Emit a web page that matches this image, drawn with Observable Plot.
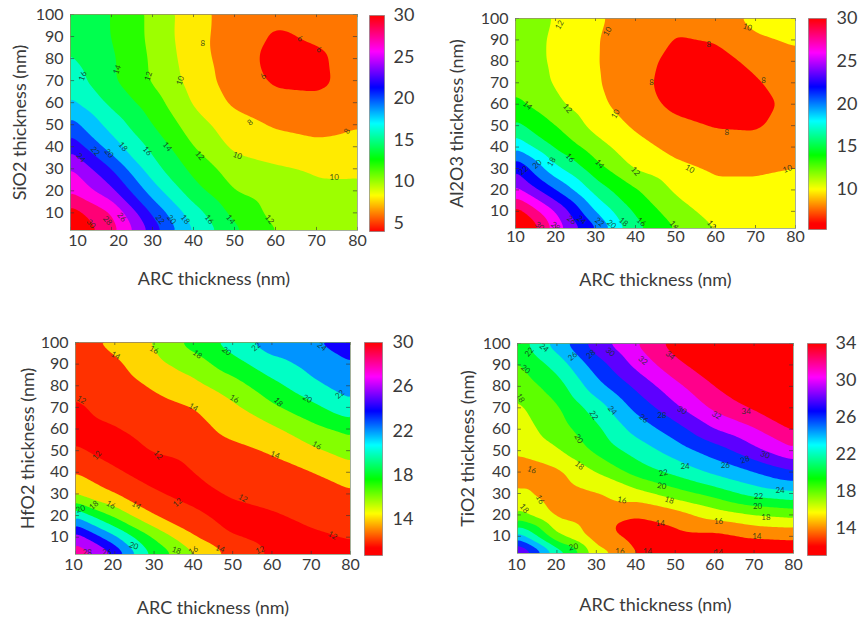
<!DOCTYPE html>
<html>
<head>
<meta charset="utf-8">
<script src="https://cdn.jsdelivr.net/npm/d3@7"></script>
<script src="https://cdn.jsdelivr.net/npm/@observablehq/plot@0.6"></script>
<style>
html,body{margin:0;padding:0;background:#fff}
#page{position:relative;width:858px;height:619px;overflow:hidden}
#page>svg,#page>div{position:absolute}
</style>
</head>
<body>
<div id="page"></div>
<script>
const arcThickness = [10,20,30,40,50,60,70,80];
const layerThickness = [100,90,80,70,60,50,40,30,20,10,0];
const layerTicks = [10,20,30,40,50,60,70,80,90,100];

// Rows run from 100 nm down to 0 nm; columns are ARC 10..80 nm
const sio2 = [
 15.2,14.0,11.5, 8.8,7.0,6.4,6.5,6.9,
 15.6,14.0,11.5, 8.7,7.0,5.8,6.2,6.8,
 16.2,14.3,11.7, 8.9,6.9,5.4,5.7,6.7,
 17.0,14.3,11.8, 9.2,7.0,5.7,5.6,6.7,
 18.4,15.5,12.9, 9.8,7.6,6.6,6.4,7.0,
 20.8,17.2,14.0,10.9,8.9,7.8,7.4,7.9,
 23.5,19.0,15.5,12.0,9.6,8.8,8.4,8.6,
 26.2,22.0,16.8,13.4,11.0,10.3,9.8,9.7,
 27.8,24.5,19.0,14.8,12.0,11.0,10.3,10.4,
 31.0,28.0,21.7,16.9,13.4,11.4,10.7,10.7,
 33.0,29.1,23.7,18.2,14.8,12.2,11.0,10.9];
const al2o3 = [
 13.0,11.9,10.3,9.2,8.4,8.8,10.8,11.4,
 13.0,11.7,10.1,9.1,7.9,8.1,9.6,10.3,
 13.0,11.7,10.1,8.9,7.3,7.4,8.4,9.4,
 13.4,11.8,10.2,8.7,7.1,6.9,7.8,8.9,
 14.5,12.4,10.5,8.9,7.5,6.9,7.4,8.5,
 16.5,14.0,11.3,9.7,8.5,7.9,7.8,8.6,
 19.7,15.7,12.9,10.7,9.4,8.7,8.6,9.1,
 23.8,18.5,14.8,11.8,10.5,9.7,9.7,10.05,
 26.6,22.0,17.2,14.2,11.7,10.5,10.5,10.6,
 31.0,26.0,20.0,15.7,12.9,11.2,10.9,11.0,
 34.0,27.8,23.0,17.0,14.3,12.2,11.0,11.1];
const hfo2 = [
 13.2,14.6,16.2,18.8,21.0,23.3,23.8,25.0,
 12.9,13.6,15.4,16.9,19.2,21.2,22.7,23.9,
 12.4,12.9,14.3,15.4,17.0,19.4,21.5,22.9,
 11.8,12.5,13.2,14.0,15.6,17.6,19.4,21.4,
 11.5,11.9,12.5,13.2,14.7,15.6,17.3,18.6,
 12.2,11.4,12.1,12.4,13.4,14.2,15.6,16.8,
 14.0,12.2,11.3,12.0,12.9,13.3,13.9,15.2,
 15.8,14.0,12.2,11.4,12.2,12.6,13.1,13.7,
 21.7,17.5,14.0,12.4,11.4,11.8,12.4,12.9,
 27.2,22.4,17.8,14.2,12.0,11.3,11.7,12.1,
 30.0,27.0,20.2,16.8,13.8,11.8,11.3,11.4];
const tio2 = [
 21.0,25.0,29.3,32.0,35.0,37.0,40.0,42.0,
 19.7,22.7,27.0,30.5,33.4,35.5,38.0,40.0,
 18.6,21.0,25.2,28.4,31.4,34.0,36.0,38.0,
 17.6,19.7,22.9,26.5,29.6,32.5,34.3,36.0,
 17.0,19.0,21.5,24.7,27.1,30.0,31.8,34.3,
 16.4,17.8,20.5,22.8,24.9,27.0,29.5,31.7,
 14.6,15.5,18.0,20.8,22.6,24.5,26.0,27.8,
 16.4,14.8,15.8,17.2,19.1,20.8,22.8,23.6,
 18.5,15.5,14.6,14.0,15.0,16.8,18.0,18.6,
 25.0,18.3,14.8,13.2,13.3,13.3,14.0,14.2,
 33.0,25.0,17.6,14.2,13.3,13.0,12.8,12.8];

const sio2Levels  = [4,6,8,10,12,14,16,18,20,22,24,26,28,30];
const al2o3Levels = [6,8,10,12,14,16,18,20,22,24,26,28,30];
const hfo2Levels  = [10,12,14,16,18,20,22,24,26,28,30];
const tio2Levels  = [12,14,16,18,20,22,24,26,28,30,32,34];

// contour labels: ARC, layer thickness, text, angle
const sio2Labels = [[13,72,"16",-70],[21.4,75,"14",-70],[29,72,"12",-70],[36.8,70,"10",-70],[42.3,87,"8",0],[53.8,51,"8",-40],[57,72,"6",-50],[66,89,"6",30],[70.6,84,"6",30],[77.5,47,"8",-60],[74.3,26,"10",0],[50.7,36,"10",20],[41.5,36,"12",50],[33.6,40,"14",50],[28.7,38,"16",50],[22.8,40,"18",50],[19.4,37,"20",50],[16,38,"22",50],[12.5,35,"24",50],[31.8,7,"22",50],[34.6,7,"20",50],[38,7,"18",50],[43.8,7,"16",50],[49,7,"14",50],[58.5,7,"12",50],[15,5,"30",50],[19,6.5,"28",50],[22.5,8,"26",50]];
const al2o3Labels = [[21,97,"12",-60],[33,94,"10",-60],[68,96,"10",20],[13,59.4,"14",40],[23,58,"12",50],[35,55.5,"10",-60],[44,70,"8",0],[58.3,88,"8",0],[72,71,"8",0],[62.8,47,"8",0],[53.6,29.8,"10",30],[78,29.8,"10",-20],[40,28.7,"12",50],[31,32,"14",50],[23.6,35,"16",50],[19,33,"18",-60],[15.4,32,"20",-40],[12,29,"22",-40],[31,5,"22",40],[34,4,"20",40],[37,5,"18",40],[41.4,5,"16",40],[49.6,3.5,"14",50],[59,3.7,"12",50],[16,3,"30",40],[20,3,"28",40],[24,6,"26",40],[26.5,6,"24",40]];
const hfo2Labels = [[20.2,94,"14",30],[30,96.6,"16",30],[41,94.5,"18",40],[48.4,96,"20",40],[56,98,"22",-40],[72.7,98,"24",40],[77.3,76,"22",-40],[69,74,"20",30],[61.6,72.4,"18",50],[50.4,74,"16",30],[40,70,"14",30],[11.5,73.5,"12",30],[71.4,52.4,"16",30],[60.8,48,"14",20],[31,48,"12",50],[15.5,47.8,"12",-50],[52.6,28,"12",30],[36,26,"12",-40],[75.4,10.8,"12",30],[57,4,"12",-20],[25.5,24.7,"14",30],[46.8,4.6,"14",20],[19,25,"16",30],[40,3.9,"16",-30],[14.7,24.7,"18",-40],[35.7,3.9,"18",20],[11.3,23,"20",-20],[24.8,6,"20",20],[13,2.8,"28",0],[18,3,"26",0]];
const tio2Labels = [[13,96,"22",-50],[16.7,98,"24",40],[24,94,"26",-40],[28.6,95,"28",-40],[33.5,96,"30",40],[41.8,92,"32",40],[48.7,94.4,"34",40],[12,88,"20",40],[10.7,74.6,"18",60],[29.3,66.5,"22",60],[34,68.8,"24",50],[42,65,"26",40],[46.6,66.5,"28",0],[51.7,68.8,"30",30],[60.5,66.5,"32",30],[68,68.5,"34",0],[25.5,55.6,"20",60],[25.7,43,"18",40],[13.6,41,"16",20],[52.5,42.7,"24",0],[62.7,43.2,"26",0],[67.7,45.8,"28",-20],[72.8,48,"30",20],[47,39.6,"22",-10],[46.6,33.5,"20",10],[48.5,26.9,"18",20],[36.5,26.9,"16",10],[76.6,31.5,"24",0],[71.1,28.4,"22",0],[70.9,23.8,"20",0],[73,19,"18",0],[61,17,"16",0],[46.2,16,"14",0],[70.7,9.8,"14",0],[15.7,27.2,"16",60],[11.7,23,"18",50],[24.2,5,"20",-10],[36,3,"16",0],[43,3,"14",0],[61,2.5,"14",0]];

const panels = [
 {name:"SiO2 thickness (nm)", grid:sio2, levels:sio2Levels, labels:sio2Labels, colorDomain:[4,30], barDomain:[4,30], barTicks:[5,10,15,20,25,30],
  frame:[70,14,357,230], bar:[369,15,384,231], yLabelX:20, xTickY:244, xLabelY:277, pad:7, shift:7, barPad:9, barFont:18},
 {name:"Al2O3 thickness (nm)", grid:al2o3, levels:al2o3Levels, labels:al2o3Labels, colorDomain:[6,30], barDomain:[5.3,30], barTicks:[10,15,20,25,30],
  frame:[515,18,795,228], bar:[808,18,826,229], yLabelX:457, xTickY:240, xLabelY:278, pad:7, shift:0, barPad:10, barFont:18},
 {name:"HfO2 thickness (nm)", grid:hfo2, levels:hfo2Levels, labels:hfo2Labels, colorDomain:[11.4,30], barDomain:[10.7,30], barTicks:[14,18,22,26,30],
  frame:[75,342,350,554], bar:[364,342,382,555], yLabelX:28, xTickY:568, xLabelY:606, pad:7, shift:-2, barPad:10, barFont:18},
 {name:"TiO2 thickness (nm)", grid:tio2, levels:tio2Levels, labels:tio2Labels, colorDomain:[12,34], barDomain:[11,34], barTicks:[14,18,22,26,30,34],
  frame:[517,343,793,553], bar:[807,343,826,555], yLabelX:468, xTickY:568, xLabelY:603, pad:7, shift:-1, barPad:9, barFont:18}
];

const FONT = "Lato, 'Open Sans', sans-serif";
const INK = "#3a3a3a";
const rainbow = t => d3.hsl(Math.max(0,Math.min(1,t))*360,1,.5).formatRgb();
const page = document.getElementById("page");

function place(el,left,top){el.style.left=left+"px";el.style.top=top+"px";page.appendChild(el);}

for (const p of panels) {
  const [fx1,fy1,fx2,fy2] = p.frame;
  const left = Math.max(0,p.yLabelX-16), top = fy1-8;
  const ml = fx1-left, mt = fy1-top, mr = 16, mb = p.xLabelY+14-fy2;
  const colorScale = {type:"linear",domain:p.colorDomain,interpolate:rainbow,clamp:true};
  const xs = arcThickness.filter(d=>d<=20), xr = arcThickness.filter(d=>d>20);
  const table = p.grid.map((value,i)=>({
    arc:arcThickness[i%arcThickness.length],
    layer:layerThickness[Math.floor(i/arcThickness.length)],
    value
  }));
  const main = Plot.plot({
    width:fx2-fx1+ml+mr, height:fy2-fy1+mt+mb,
    marginLeft:ml, marginRight:mr, marginTop:mt, marginBottom:mb,
    style:{fontFamily:FONT,fontSize:"18px",color:INK,background:"transparent",overflow:"visible"},
    x:{domain:[10,80]}, y:{domain:[2,100]}, color:colorScale,
    marks:[
      Plot.contour(table,{x:"arc",y:"layer",fill:"value",interpolate:"barycentric",pixelSize:2,blur:2,thresholds:p.levels,clip:true}),
      Plot.text(p.labels,{x:d=>d[0],y:d=>d[1],text:d=>d[2],rotate:d=>d[3],fontSize:8,fill:"#16301a",fillOpacity:.85,clip:true}),
      Plot.ruleX(arcThickness,{x:d=>d,y1:2,y2:3.4,stroke:"#333",strokeOpacity:.6}),
      Plot.ruleX(arcThickness,{x:d=>d,y1:98.6,y2:100,stroke:"#333",strokeOpacity:.6}),
      Plot.ruleY(layerTicks,{y:d=>d,x1:10,x2:11,stroke:"#333",strokeOpacity:.6}),
      Plot.ruleY(layerTicks,{y:d=>d,x1:79,x2:80,stroke:"#333",strokeOpacity:.6}),
      Plot.frame({stroke:"#7f8f6f",strokeOpacity:.7}),
      Plot.axisX({ticks:xs,tickSize:0,tickPadding:p.xTickY-fy2-10,dx:p.shift,label:null,fontSize:16}),
      Plot.axisX({ticks:xr,tickSize:0,tickPadding:p.xTickY-fy2-10,label:null,fontSize:16}),
      Plot.axisX({ticks:xr,tickSize:0,text:null,label:"ARC thickness (nm)",labelAnchor:"center",labelArrow:"none",labelOffset:p.xLabelY-fy2+7}),
      Plot.axisY({ticks:layerTicks,tickSize:0,tickPadding:p.pad,label:null,tickFormat:d=>d,fontSize:16}),
      Plot.axisY({ticks:layerTicks,tickSize:0,text:null,label:p.name,labelAnchor:"center",labelArrow:"none",labelOffset:fx1-p.yLabelX+7})
    ]
  });
  place(main,left,top);

  const [bx1,by1,bx2,by2] = p.bar;
  const bar = Plot.plot({
    width:bx2-bx1+44, height:by2-by1+16,
    marginLeft:0, marginRight:44, marginTop:8, marginBottom:8,
    style:{fontFamily:FONT,fontSize:p.barFont+"px",color:INK,background:"transparent",overflow:"visible"},
    x:{domain:[0,1],axis:null}, y:{domain:p.barDomain}, color:colorScale,
    marks:[
      Plot.raster({x1:0,x2:1,y1:p.barDomain[0],y2:p.barDomain[1],fill:(x,y)=>y,pixelSize:1,imageRendering:"auto"}),
      Plot.frame({stroke:"#777",strokeOpacity:.6}),
      Plot.axisY({anchor:"right",ticks:p.barTicks,tickSize:0,tickPadding:p.barPad,label:null,tickFormat:d=>d})
    ]
  });
  place(bar,bx1,by1-8);
}
</script>
</body>
</html>
